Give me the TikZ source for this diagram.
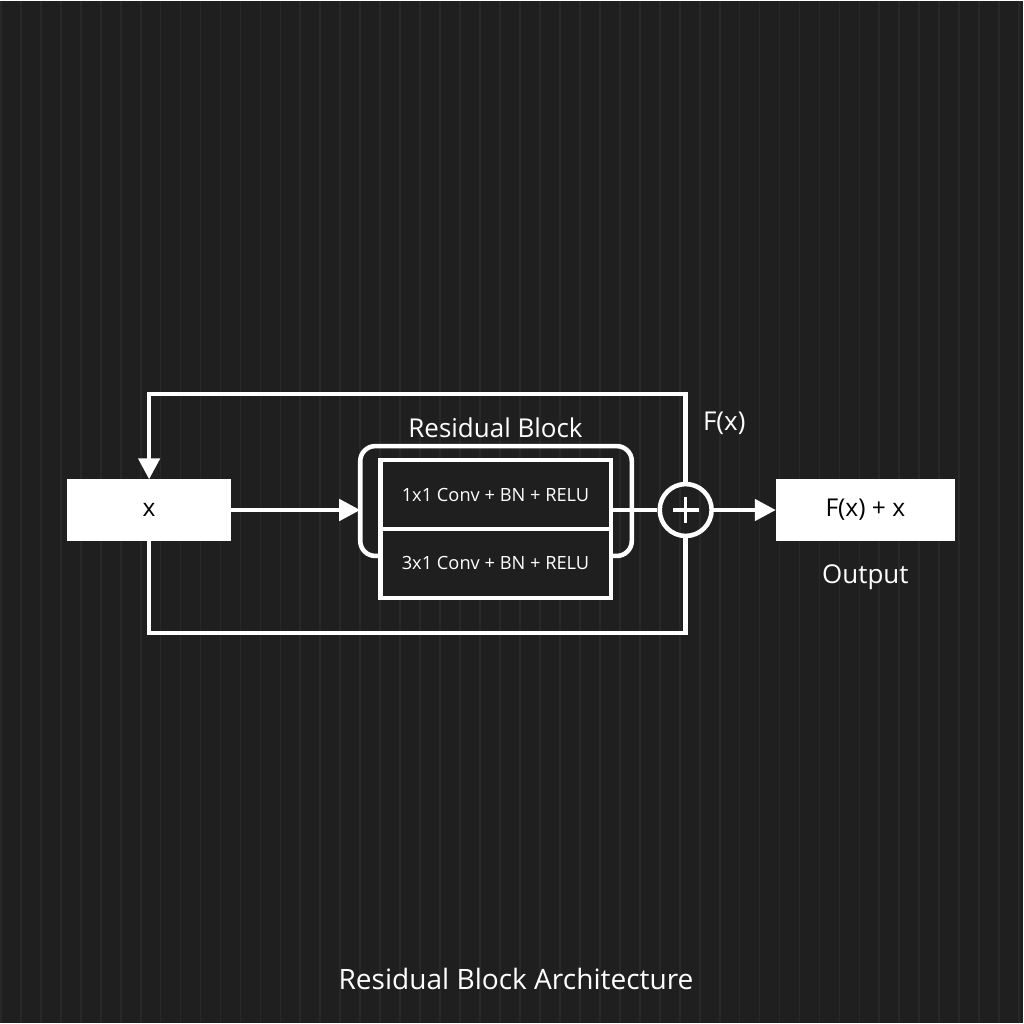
\documentclass[tikz,border=0pt]{standalone}
\usepackage{fontspec}
\setmainfont{Open Sans}
\usetikzlibrary{positioning,arrows.meta}
\definecolor{bgcol}{HTML}{1F1F1F}
\definecolor{gridcol}{HTML}{282828}
\tikzset{
  wire/.style={draw=white,line width=1.3pt},
  feed/.style={wire,-{Triangle[length=6pt,width=6pt]}},
  whitebox/.style={fill=white,draw=white,minimum height=0.6cm,font=\fontsize{7}{8}\selectfont,text=black},
  layer/.style={draw=white,line width=1.3pt,fill=bgcol,outer sep=0pt,minimum width=2.31cm,minimum height=0.69cm,text=white,font=\fontsize{5.2}{6}\selectfont},
  caption/.style={text=white,font=\fontsize{7.4}{9}\selectfont}
}
\begin{document}
\begin{tikzpicture}[x=1cm,y=-1cm]
      \fill[bgcol] (0,0) rectangle (10.24,10.24);
      \draw[gridcol,line width=0.5pt,step=0.2] (0,0) grid (10.24,10.24);
      \useasboundingbox (0,0) rectangle (10.24,10.24);
      \node[whitebox,minimum width=1.63cm] (x) at (1.485,5.1) {x};
      \node[whitebox,minimum width=1.78cm] (out) at (8.66,5.1) {F(x) + x};
      \node[caption,below=0.12cm of out] (outlbl) {Output};
      % residual branch
      \draw[wire,rounded corners=0.15cm] (3.6,4.46) rectangle (6.32,5.56);
      \node[layer] (conv1) at (4.955,4.945) {1x1 Conv + BN + RELU};
      \node[layer,below=0pt of conv1] (conv2) {3x1 Conv + BN + RELU};
      \node[caption,above=0.1cm of conv1.north] (blk) {Residual Block};
      \node[draw=white,line width=1.3pt,circle,minimum size=0.52cm,inner sep=0pt] (add) at (6.86,5.1) {};
      \draw[wire,line width=1pt] (add.center) ++(0,-0.13) -- ++(0,0.26);
      \draw[wire,line width=1pt] (add.center) ++(-0.13,0) -- ++(0.26,0);
      \node[caption,above right=0.35cm and 0.05cm of add.north] (fx) {F(x)};
      \coordinate (top) at (6.86,3.94);
      \coordinate (bot) at (6.86,6.33);
      \coordinate (in) at (3.6,5.1);
      \draw[feed] (x.east) -- (in);
      \draw[wire] (conv1.east |- add) -- (add.west);
      \draw[feed] (add.east) -- (out.west);
      \draw[wire] (x.south) |- (bot) -- (add.south);
      \draw[feed] (add.north) -- (top) -| (x.north);
      \node[caption,font=\fontsize{8}{10}\selectfont] (title) at (5.16,9.8) {Residual Block Architecture};
    \end{tikzpicture}
\end{document}
